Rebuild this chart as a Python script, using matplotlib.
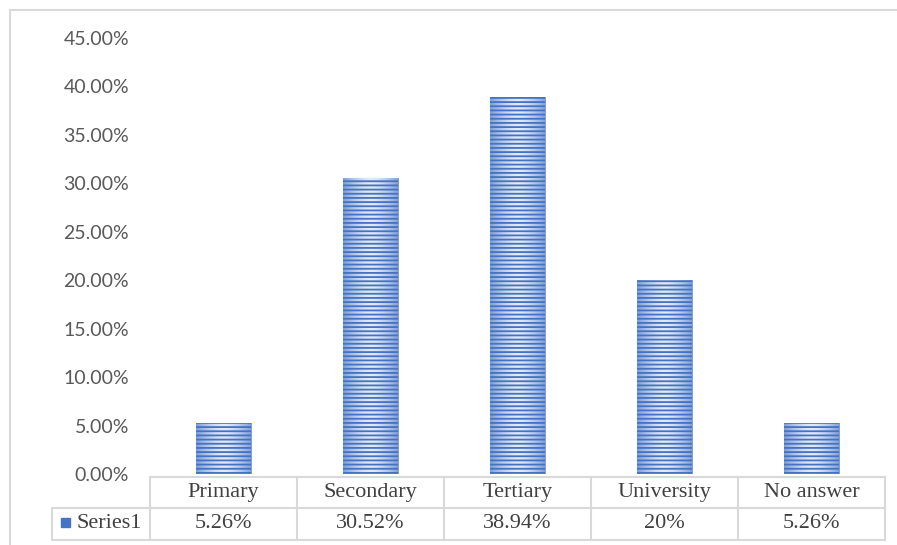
import matplotlib.pyplot as plt
import numpy as np
from matplotlib.lines import Line2D
from matplotlib.patches import Rectangle

# Data
categories = ["Primary", "Secondary", "Tertiary", "University", "No answer"]
values = [5.26, 30.52, 38.94, 20.0, 5.26]
value_labels = ["5.26%", "30.52%", "38.94%", "20%", "5.26%"]
series_name = "Series1"
yticks = [0, 5, 10, 15, 20, 25, 30, 35, 40, 45]

blue = "#4472C4"
grid_gray = "#d9d9d9"
text_gray = "#595959"

plt.rcParams["hatch.linewidth"] = 1.3

W, H = 897, 545
fig = plt.figure(figsize=(W / 100, H / 100), dpi=100)

def fx(px):
    return px / W

def fy(py):
    return 1 - py / H

ax_left, ax_right, ax_top, ax_bottom = 150, 885, 38, 474
ax = fig.add_axes([fx(ax_left), fy(ax_bottom), fx(ax_right - ax_left), fy(ax_top) - fy(ax_bottom)])

x = np.arange(len(categories))

# gradient fill, lighter in the middle of each bar
grad = np.abs(np.linspace(-1, 1, 64)) ** 1.5
cmap = plt.matplotlib.colors.LinearSegmentedColormap.from_list("g", ["#e3eaf7", "#7f9fd8"])
bars = ax.bar(x, values, width=0.38, color="none", edgecolor="none")
for b in bars:
    im = ax.imshow(grad[np.newaxis, :], cmap=cmap, aspect="auto",
                   extent=[b.get_x(), b.get_x() + b.get_width(), 0, b.get_height()],
                   zorder=1, vmin=0, vmax=1)
    im.set_clip_path(b)
ax.bar(x, values, width=0.38, color="none", edgecolor=blue, hatch="----", linewidth=0, zorder=2)
ax.set_aspect("auto")
ax.set_xlim(-0.5, len(categories) - 0.5)
ax.set_ylim(0, 45)

ax.set_yticks(yticks)
ax.set_yticklabels([f"{v:.2f}%" for v in yticks], fontfamily="Lato", fontsize=14, color=text_gray)
ax.tick_params(axis="y", length=0, pad=15)
ax.set_xticks([])
for s in ax.spines.values():
    s.set_visible(False)

# outer chart border
fig.add_artist(Line2D([fx(10), fx(10)], [fy(10), fy(H + 5)], color=grid_gray, lw=1.5))
fig.add_artist(Line2D([fx(10), fx(W + 5)], [fy(10), fy(10)], color=grid_gray, lw=1.5))

# data table below the plot
t_top, t_mid, t_bot = 477, 508, 540
t_left = 52
n = len(categories)
col_w = (ax_right - ax_left) / n
lc = dict(color=grid_gray, lw=1.5)
fig.add_artist(Line2D([fx(ax_left), fx(ax_right)], [fy(t_top), fy(t_top)], **lc))
fig.add_artist(Line2D([fx(t_left), fx(ax_right)], [fy(t_mid), fy(t_mid)], **lc))
fig.add_artist(Line2D([fx(t_left), fx(ax_right)], [fy(t_bot), fy(t_bot)], **lc))
fig.add_artist(Line2D([fx(t_left), fx(t_left)], [fy(t_mid), fy(t_bot)], **lc))
for i in range(n + 1):
    xx = ax_left + i * col_w
    fig.add_artist(Line2D([fx(xx), fx(xx)], [fy(t_top), fy(t_bot)], **lc))

tf = dict(fontfamily="Liberation Serif", fontsize=16, color="#404040", ha="center", va="center")
for i, (c, v) in enumerate(zip(categories, value_labels)):
    cx = ax_left + (i + 0.5) * col_w
    fig.text(fx(cx), fy((t_top + t_mid) / 2), c, **tf)
    fig.text(fx(cx), fy((t_mid + t_bot) / 2), v, **tf)

fig.add_artist(Rectangle((fx(61), fy(527)), fx(9), fy(518) - fy(527), color=blue))
fig.text(fx(76), fy((t_mid + t_bot) / 2), series_name, fontfamily="Liberation Serif",
         fontsize=16, color="#404040", ha="left", va="center")

fig.savefig("out.png", dpi=100)
